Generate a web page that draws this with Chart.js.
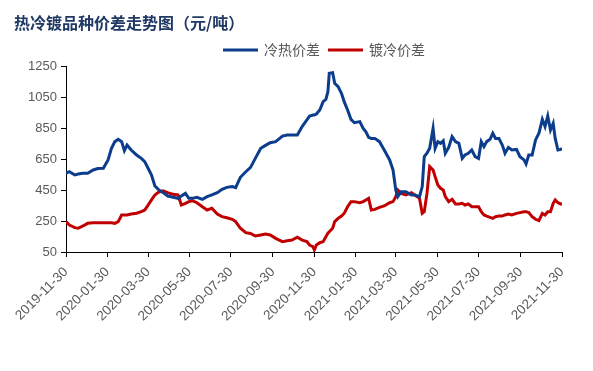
<!DOCTYPE html>
<html><head><meta charset="utf-8">
<script src="https://cdn.jsdelivr.net/npm/chart.js@4"></script>
<style>html,body{margin:0;padding:0;background:#fff;}#wrap{width:593px;height:371px;position:relative;}</style>
</head><body><div id="wrap"><canvas id="c" width="593" height="371"></canvas></div>
<script>
const titleText = '热冷镀品种价差走势图（元/吨）';
const seriesNames = ['冷热价差', '镀冷价差'];
const startDate = '2019-11-30';
const tickLabels = ['2019-11-30','2020-01-30','2020-03-30','2020-05-30','2020-07-30','2020-09-30','2020-11-30','2021-01-30','2021-03-30','2021-05-30','2021-07-30','2021-09-30','2021-11-30'];
const yTicks = [50, 250, 450, 650, 850, 1050, 1250];

// days since 2019-11-30
const dayOffsets = [
  0,5,13,18,25,32,40,47,55,62,67,72,77,82,86,90,96,104,111,116,121,126,131,136,143,150,158,165,170,
  176,181,186,193,201,208,215,223,230,237,245,250,257,265,272,279,287,294,301,309,319,326,333,341,348,355,
  359,364,366,369,374,379,383,386,388,393,396,401,406,410,415,420,425,433,438,442,446,450,455,462,469,477,482,486,489,494,501,509,514,521,525,528,532,536,541,
  544,548,552,556,559,564,569,574,579,584,588,593,598,603,608,612,616,620,625,629,633,638,643,647,652,657,664,669,675,678,682,687,692,697,702,706,710,714,718,721,725,729,731
];
const coldHotSpread = [
  558,568,547,553,558,558,579,588,590,644,719,762,777,762,704,740,708,676,654,633,590,547,476,454,433,411,403,396,411,
  428,396,396,403,390,407,418,433,454,467,472,465,532,568,596,654,719,738,755,762,798,805,805,805,859,902,
  927,934,934,940,966,1020,1035,1084,1203,1207,1138,1117,1074,1020,966,906,884,891,848,826,790,783,783,762,708,644,579,450,407,439,439,418,418,407,472,665,687,719,848,
  719,762,751,768,687,725,794,762,751,654,676,687,708,665,654,762,730,762,777,816,783,783,740,687,725,708,712,665,644,618,676,676,773,816,906,859,927,837,880,783,708,712,719
];
const galvColdSpread = [
  246,224,207,203,218,235,239,239,239,239,239,235,246,289,289,289,295,300,310,321,353,386,418,435,444,433,422,418,353,
  364,375,381,368,342,321,332,295,278,271,261,246,203,175,170,153,160,166,160,138,117,123,127,145,127,117,
  95,84,63,95,110,117,149,171,181,203,246,267,282,299,342,375,375,368,375,386,396,321,325,338,347,368,375,407,450,428,418,433,418,396,300,310,428,601,579,
  536,482,461,450,407,375,390,360,360,364,353,360,342,342,342,310,289,282,274,267,278,282,282,289,295,289,299,304,310,310,304,278,261,252,299,289,310,310,364,386,368,360,360
];

function dayOf(s){
  const p = s.split('-').map(Number), q = startDate.split('-').map(Number);
  return Math.round((Date.UTC(p[0],p[1]-1,p[2]) - Date.UTC(q[0],q[1]-1,q[2]))/86400000);
}
const tickDays = tickLabels.map(dayOf);

const overlay = {
  id: 'overlay',
  afterDraw(chart){
    const ctx = chart.ctx;
    ctx.save();
    ctx.textBaseline = 'middle';
    ctx.textAlign = 'left';
    ctx.font = 'bold 16px "Noto Sans CJK SC"';
    ctx.fillStyle = '#1F3864';
    ctx.fillText(titleText, 14, 23);
    ctx.font = '14px "Noto Sans CJK SC"';
    let x = 223; const y = 50;
    chart.data.datasets.forEach(ds => {
      ctx.strokeStyle = ds.borderColor; ctx.lineWidth = 3;
      ctx.beginPath(); ctx.moveTo(x, y); ctx.lineTo(x + 35, y); ctx.stroke();
      x += 41;
      ctx.fillStyle = '#595959';
      ctx.fillText(ds.label, x, y);
      x += ctx.measureText(ds.label).width + 8;
    });
    ctx.restore();
  }
};

new Chart(document.getElementById('c'), {
  type: 'line',
  data: {
    datasets: [
      { label: seriesNames[0], data: dayOffsets.map((d,i)=>({x:d,y:coldHotSpread[i]})), borderColor: '#0B3D8C', borderWidth: 3, pointRadius: 0, tension: 0, fill: false },
      { label: seriesNames[1], data: dayOffsets.map((d,i)=>({x:d,y:galvColdSpread[i]})), borderColor: '#C00000', borderWidth: 3, pointRadius: 0, tension: 0, fill: false }
    ]
  },
  options: {
    responsive: false,
    animation: false,
    devicePixelRatio: 1,
    layout: { padding: { left: 0, right: 31, top: 66, bottom: 0 } },
    plugins: { legend: { display: false }, title: { display: false }, tooltip: { enabled: false } },
    scales: {
      x: {
        type: 'linear', min: 0, max: tickDays[tickDays.length-1],
        afterBuildTicks: s => { s.ticks = tickDays.map(v => ({ value: v })); },
        afterFit: s => { s.height = 119; },
        grid: { display: true, drawOnChartArea: false, drawTicks: true, tickLength: 5, color: '#000' },
        border: { display: true, color: '#000', width: 1 },
        ticks: { autoSkip: false, maxRotation: 45, minRotation: 45, color: '#595959', padding: 7,
          font: { size: 13.5, family: '"Liberation Sans", Arial' },
          callback: (v, i) => tickLabels[i] }
      },
      y: {
        min: 50, max: 1250,
        afterBuildTicks: s => { s.ticks = yTicks.map(v => ({ value: v })); },
        afterFit: s => { s.width = 66; },
        grid: { display: true, drawOnChartArea: false, drawTicks: true, tickLength: 5, color: '#000' },
        border: { display: true, color: '#000', width: 1 },
        ticks: { color: '#595959', padding: 4, font: { size: 13, family: '"Liberation Sans", Arial' },
          callback: v => String(v) }
      }
    }
  },
  plugins: [overlay]
});
</script>
</body></html>
